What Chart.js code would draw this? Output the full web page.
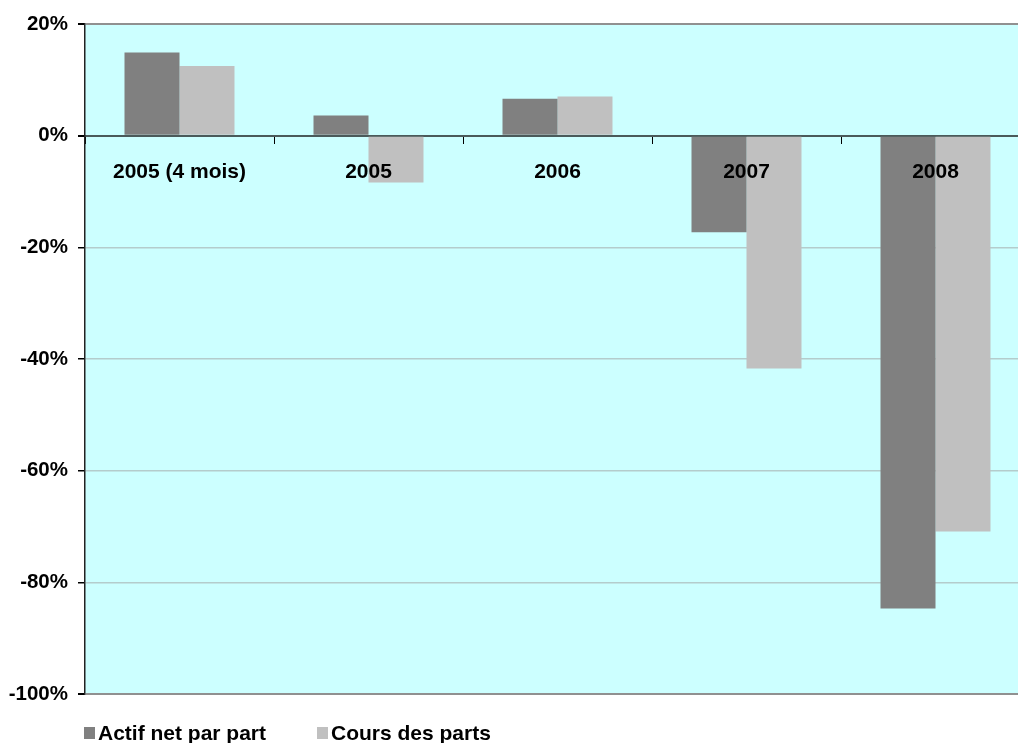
<!DOCTYPE html>
<html>
<head>
<meta charset="utf-8">
<script src="https://cdn.jsdelivr.net/npm/chart.js@4/dist/chart.umd.min.js"></script>
<style>
    body { margin: 0; overflow: hidden; background: #fff; }
    #wrap { position: relative; width: 1040px; height: 743px; }
    #legend { position: absolute; left: 0; top: 721px; font: bold 21px "Liberation Sans", Arial, sans-serif; color: #000; }
    .item { position: absolute; top: 0; white-space: nowrap; line-height: 24px; }
    .box { position: absolute; top: 6px; width: 11px; height: 12px; }
    .txt { position: absolute; left: 14px; top: 0; }
</style>
</head>
<body>
<div id="wrap">
    <canvas id="myChart" width="1040" height="743"></canvas>
    <div id="legend"></div>
</div>
<script>
const categories = ['2005 (4 mois)', '2005', '2006', '2007', '2008'];
const actifNet = [14.9, 3.6, 6.6, -17.3, -84.7];
const coursParts = [12.5, -8.4, 7.0, -41.7, -70.9];
const seriesNames = ['Actif net par part', 'Cours des parts'];
const seriesColors = ['#808080', '#c0c0c0'];
const legendLeft = [84, 317];

const plotBackground = {
    id: 'plotBackground',
    beforeDraw: function (chart) {
        const a = chart.chartArea;
        chart.ctx.save();
        chart.ctx.fillStyle = '#ccffff';
        chart.ctx.fillRect(a.left, a.top, a.right - a.left, a.bottom - a.top);
        chart.ctx.restore();
    }
};

const ctx = document.getElementById('myChart');
new Chart(ctx, {
    type: 'bar',
    data: {
        labels: categories,
        datasets: [{
            label: seriesNames[0],
            data: actifNet,
            backgroundColor: seriesColors[0]
        }, {
            label: seriesNames[1],
            data: coursParts,
            backgroundColor: seriesColors[1]
        }]
    },
    options: {
        responsive: false,
        animation: false,
        layout: { padding: { left: 0, right: 10, top: 24, bottom: 49 } },
        datasets: {
            bar: { categoryPercentage: 0.582, barPercentage: 1 }
        },
        plugins: {
            legend: { display: false },
            tooltip: { enabled: false }
        },
        scales: {
            x: {
                position: { y: 0 },
                offset: true,
                grid: {
                    offset: true,
                    drawOnChartArea: false,
                    tickLength: 7,
                    tickColor: '#000'
                },
                border: { color: '#4a5a5a', width: 2 },
                ticks: {
                    z: 1,
                    color: '#000',
                    padding: 17,
                    font: { family: 'Liberation Sans', size: 21, weight: 'bold' }
                }
            },
            y: {
                min: -100,
                max: 20,
                afterFit: function (scale) { scale.width = 85; },
                grid: {
                    tickLength: 7,
                    tickColor: '#000',
                    color: function (c) {
                        const v = c.tick.value;
                        if (v === 0) return '#4a5a5a';
                        if (v === 20 || v === -100) return '#909090';
                        return '#b4cccc';
                    },
                    lineWidth: function (c) {
                        const v = c.tick.value;
                        return (v === 20 || v === -100 || v === 0) ? 2 : 1.5;
                    }
                },
                border: { color: '#222', width: 1.5 },
                ticks: {
                    stepSize: 20,
                    color: '#000',
                    padding: 10,
                    font: { family: 'Liberation Sans', size: 20.5, weight: 'bold' },
                    callback: function (v) { return v + '%'; }
                }
            }
        }
    },
    plugins: [plotBackground]
});

// legend
const legend = document.getElementById('legend');
seriesNames.forEach(function (name, i) {
    const item = document.createElement('div');
    item.className = 'item';
    item.style.left = legendLeft[i] + 'px';
    item.innerHTML = '<span class="box" style="background:' + seriesColors[i] + '"></span><span class="txt">' + name + '</span>';
    legend.appendChild(item);
});
</script>
</body>
</html>
